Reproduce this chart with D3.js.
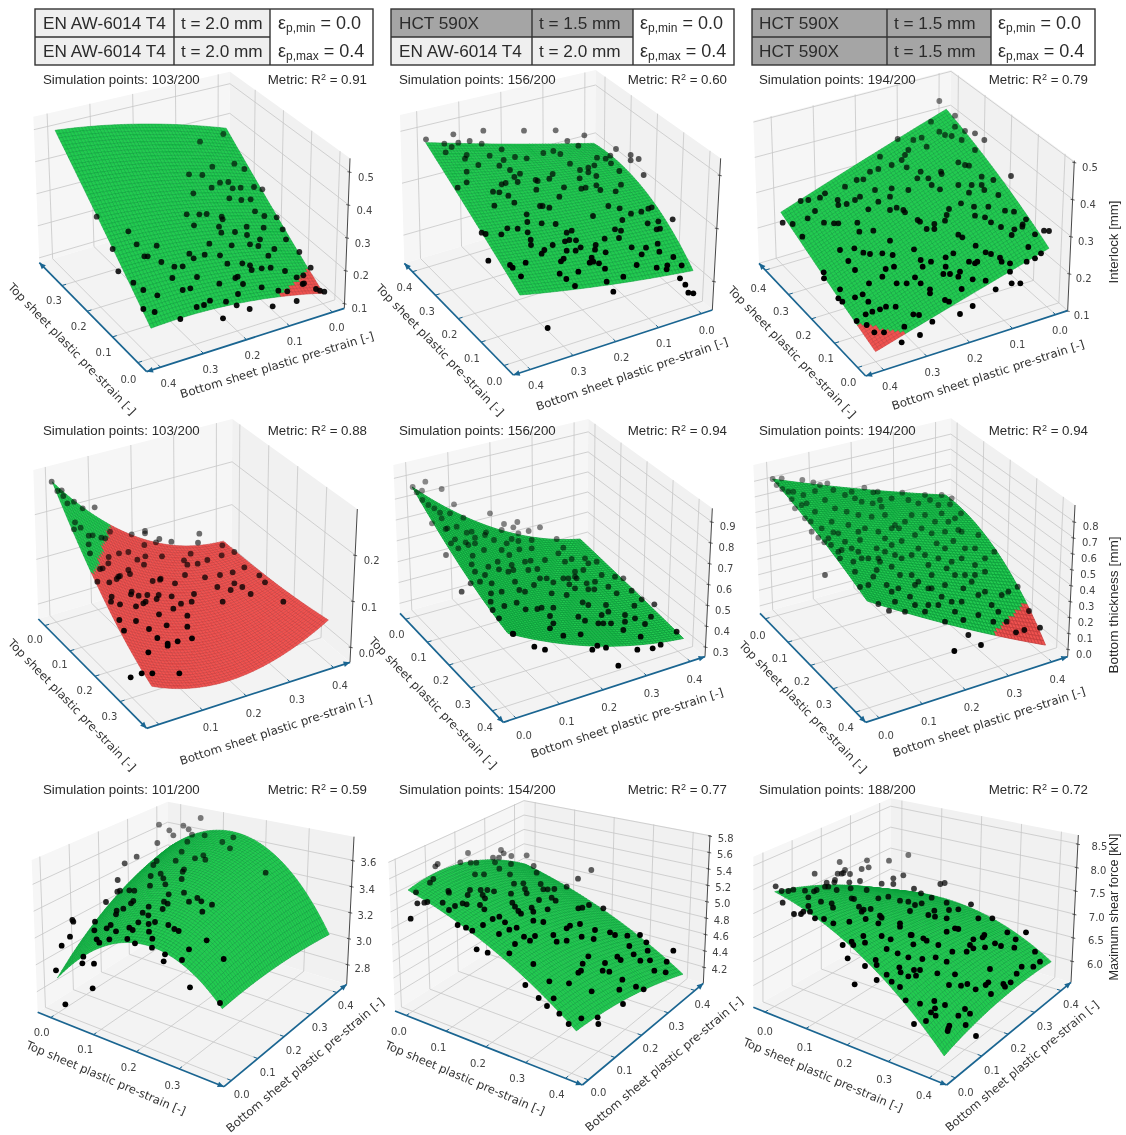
<!DOCTYPE html>
<html><head><meta charset="utf-8">
<script src="https://cdn.jsdelivr.net/npm/d3@7/dist/d3.min.js"></script>
<style>html,body{margin:0;background:#fff}svg{display:block;filter:blur(.35px)}text{font-family:"Liberation Sans",Arial,sans-serif;fill:#2b2b2b}</style>
</head><body><div id="chart"></div>
<script>
// ---------- values ----------
const materials=[["EN AW-6014 T4","t = 2.0 mm","EN AW-6014 T4","t = 2.0 mm"],["HCT 590X","t = 1.5 mm","EN AW-6014 T4","t = 2.0 mm"],["HCT 590X","t = 1.5 mm","HCT 590X","t = 1.5 mm"]];
const simCounts=["103/200","156/200","194/200","103/200","156/200","194/200","101/200","154/200","188/200"];
const metrics=["0.91","0.60","0.79","0.88","0.94","0.94","0.59","0.77","0.72"];
const yTitles=["Interlock [mm]","Bottom thickness [mm]","Maximum shear force [kN]"];
// Surface heights, rows = top-sheet strain, columns = bottom-sheet strain
const tGrids=[[0,.18,.36],[0,.2,.4],[0,.2,.4],[0,.19,.38],[0,.21,.42],[0,.2,.4],[0,.19,.38],[0,.205,.41],[0,.207,.414]];
const bGrids=[[.4,.2,0],[.4,.2,0],[.4,.2,0],[0,.2,.4],[0,.2,.4],[0,.205,.41],[0,.2,.4],[0,.2,.4],[0,.2,.4]];
const surf11=[[.173,.167,.117],[.336,.306,.235],[.509,.464,.381]];
const surf12=[[.328,.267,.221],[.448,.404,.373],[.571,.483,.398]];
const surf13=[[.126,.190,.258],[.182,.261,.344],[.249,.331,.414]];
const surf21=[[.28,.102,.039],[.125,.029,.042],[.033,-.006,.057]];
const surf22=[[.870,.565,.409],[.703,.478,.372],[.604,.425,.333]];
const surf23=[[.826,.625,.444],[.729,.524,.335],[.598,.279,-.008]];
const surf31=[[2.905,3.261,3.457],[3.389,3.589,3.676],[3.135,3.138,3.069]];
const surf32=[[5.473,5.453,5.021],[5.102,5.021,4.668],[4.507,4.404,4.153]];
const surf33=[[7.953,7.494,6.701],[7.283,7.170,6.774],[5.890,6.123,6.091]];
const redLimits=[.15,-9,.148,.15,-9,.16,-9,-9,-9];
// Simulation points as read in the picture plane: [horizontal, vertical] reading units
const pts11=[[600,425],[670,402],[637,500],[703,491],[567,523],[607,525],[733,507],[660,548],[685,546],[635,563],[698,565],[722,563],[762,561],[787,568],[580,580],[688,595],[724,600],[752,598],[765,634],[793,648],[830,652],[560,643],[598,643],[620,642],[665,650],[668,658],[290,650],[582,676],[657,680],[705,696],[740,680],[791,683],[848,688],[385,694],[664,698],[741,705],[780,718],[858,718],[410,733],[470,737],[628,731],[695,736],[750,733],[775,738],[823,747],[898,756],[338,747],[568,761],[581,775],[614,764],[660,766],[805,767],[433,769],[443,769],[484,786],[682,791],[727,790],[750,796],[755,810],[785,805],[812,803],[855,813],[932,803],[523,800],[548,799],[355,814],[517,834],[591,831],[706,834],[713,830],[658,851],[729,852],[890,832],[910,826],[400,848],[430,870],[548,870],[571,865],[472,886],[714,882],[785,862],[835,872],[862,874],[908,852],[948,867],[960,872],[973,875],[630,902],[678,905],[612,915],[590,921],[710,916],[749,927],[818,919],[890,903],[430,927],[464,936],[541,957],[669,955],[912,850]];
const pts12=[[153,418],[235,403],[325,392],[447,392],[542,391],[284,423],[320,431],[577,423],[628,406],[208,431],[230,441],[250,428],[380,448],[610,437],[723,447],[212,457],[275,465],[270,476],[344,467],[420,471],[455,475],[505,459],[535,453],[556,462],[767,465],[791,477],[706,467],[692,476],[666,473],[767,481],[310,495],[373,497],[386,480],[585,491],[658,496],[640,503],[708,490],[275,515],[405,510],[435,521],[418,531],[533,522],[640,517],[615,510],[664,528],[733,513],[806,525],[275,547],[380,553],[392,549],[428,546],[482,540],[488,543],[523,536],[614,535],[738,554],[248,563],[354,575],[373,577],[400,587],[484,569],[553,590],[567,562],[619,566],[632,563],[664,556],[676,570],[722,574],[418,608],[358,617],[495,618],[503,618],[523,623],[700,618],[734,625],[830,622],[820,626],[799,635],[768,641],[455,643],[654,648],[457,666],[500,670],[542,672],[742,660],[893,658],[850,664],[818,670],[855,686],[845,688],[397,685],[428,686],[320,698],[332,702],[458,697],[379,703],[590,692],[575,698],[720,688],[738,692],[689,716],[732,714],[467,719],[468,735],[570,724],[583,720],[603,721],[533,735],[662,735],[848,731],[575,752],[508,750],[500,761],[602,752],[617,742],[660,749],[770,742],[813,743],[692,757],[853,755],[800,763],[566,776],[558,784],[650,773],[644,788],[655,785],[672,790],[895,771],[690,806],[785,795],[845,803],[877,796],[875,808],[920,796],[340,782],[405,795],[413,803],[452,788],[610,815],[554,821],[574,837],[438,829],[745,830],[695,845],[600,858],[715,875],[915,835],[931,854],[940,878],[955,880],[518,984]];
const pts13=[[583,303],[630,347],[558,365],[630,380],[660,393],[690,400],[583,395],[600,405],[620,408],[650,420],[718,420],[458,417],[505,420],[530,413],[545,440],[490,450],[480,465],[405,470],[690,450],[640,487],[660,495],[672,497],[470,480],[440,495],[485,502],[400,507],[375,515],[355,538],[335,540],[798,528],[517,535],[527,515],[550,535],[588,515],[590,522],[710,530],[745,540],[560,555],[585,568],[640,555],[680,555],[710,555],[718,570],[440,565],[390,570],[300,560],[240,580],[225,593],[190,600],[167,603],[345,590],[330,600],[278,600],[280,615],[490,570],[435,590],[672,578],[760,585],[648,610],[400,605],[210,633],[305,612],[370,628],[455,623],[435,630],[475,630],[480,637],[612,627],[687,620],[730,620],[780,632],[807,635],[843,658],[690,647],[720,652],[605,645],[518,660],[525,665],[568,672],[600,662],[738,667],[833,673],[832,680],[188,655],[237,668],[267,670],[280,670],[337,668],[113,668],[143,672],[545,687],[568,687],[768,681],[808,688],[343,695],[385,692],[640,704],[652,712],[800,705],[870,703],[897,692],[912,693],[172,710],[435,722],[692,737],[850,741],[285,750],[328,745],[355,758],[375,762],[412,760],[443,765],[507,748],[722,757],[738,762],[602,772],[625,760],[527,780],[765,773],[672,785],[690,790],[697,785],[770,785],[795,790],[888,760],[870,775],[845,785],[310,783],[447,800],[422,807],[533,800],[558,785],[602,800],[236,817],[330,810],[412,830],[510,832],[237,835],[595,822],[615,822],[645,815],[640,830],[683,838],[722,842],[795,815],[800,850],[826,850],[372,850],[455,850],[485,850],[527,850],[285,868],[555,868],[555,880],[650,867],[752,868],[330,892],[353,883],[280,895],[292,905],[370,905],[600,900],[612,905],[423,920],[405,928],[452,920],[683,918],[645,942],[382,935],[362,943],[505,943],[522,945],[335,963],[562,965],[365,975],[388,997],[417,997],[478,980],[525,1005],[470,1027]];
const pts21=[[155,200],[172,228],[185,226],[190,243],[202,265],[222,260],[248,280],[284,277],[225,322],[242,338],[222,343],[330,350],[435,348],[435,355],[395,358],[478,372],[468,382],[514,380],[598,356],[594,383],[266,362],[278,361],[304,368],[316,370],[266,388],[270,415],[433,390],[357,415],[385,411],[326,426],[325,445],[436,424],[412,434],[486,424],[572,416],[552,436],[562,449],[593,446],[622,435],[665,421],[703,411],[667,391],[308,460],[385,465],[390,477],[432,449],[300,462],[292,500],[355,485],[360,483],[350,492],[328,502],[482,491],[480,494],[458,498],[525,505],[555,480],[615,487],[660,480],[698,472],[733,457],[778,481],[795,502],[703,505],[692,525],[727,516],[652,516],[335,545],[395,530],[393,538],[416,542],[442,540],[476,540],[470,552],[515,544],[582,537],[752,537],[333,560],[360,568],[408,574],[430,565],[437,560],[543,566],[520,581],[575,560],[668,560],[850,560],[477,598],[358,615],[408,618],[562,602],[500,631],[562,635],[447,642],[372,647],[472,669],[576,670],[533,679],[503,686],[503,692],[445,712],[392,787],[425,775],[457,775],[538,775]];
const pts22=[[113,216],[151,200],[200,222],[125,232],[141,227],[142,255],[237,268],[345,295],[171,325],[178,280],[195,293],[225,295],[265,308],[387,327],[427,321],[415,337],[495,337],[461,348],[212,342],[217,340],[245,335],[275,353],[290,350],[333,352],[380,345],[410,372],[430,378],[545,372],[357,375],[228,385],[240,373],[272,382],[300,385],[300,368],[330,360],[395,385],[327,405],[380,405],[403,420],[470,400],[433,403],[565,398],[213,420],[293,422],[368,440],[450,440],[467,437],[410,450],[415,465],[400,470],[372,463],[340,455],[290,448],[487,462],[590,432],[640,445],[665,440],[625,465],[495,490],[515,490],[535,502],[565,490],[583,508],[580,490],[600,485],[605,490],[720,485],[287,505],[315,500],[477,510],[635,505],[640,523],[658,523],[700,515],[433,525],[348,535],[770,527],[725,535],[800,553],[838,568],[347,560],[353,585],[388,573],[425,563],[452,583],[487,582],[500,578],[535,578],[623,562],[693,570],[778,572],[372,610],[525,603],[610,605],[630,617],[828,605],[535,625],[670,625],[685,625],[708,625],[750,620],[810,627],[525,640],[745,645],[415,657],[413,656],[565,662],[617,658],[797,665],[905,650],[478,695],[510,704],[652,704],[667,692],[693,698],[787,704],[833,700],[857,689],[730,752],[350,505],[260,530],[300,470],[330,480],[460,465],[510,435],[550,415],[630,430],[660,500],[680,480],[745,490],[470,375],[430,355],[570,440],[600,470],[530,535],[575,540],[600,520],[700,590],[750,600],[780,610],[640,570],[680,600],[420,500],[380,530],[450,530],[250,400],[280,390],[200,310],[160,270]];
const pts23=[[83,192],[110,190],[172,195],[205,202],[247,205],[95,210],[112,222],[140,253],[145,230],[175,240],[185,265],[210,228],[240,255],[300,240],[358,218],[385,232],[398,230],[472,233],[590,240],[615,268],[648,295],[320,230],[350,260],[383,265],[410,275],[440,250],[490,255],[520,265],[555,255],[180,310],[197,320],[150,280],[210,290],[260,320],[305,290],[340,300],[380,305],[420,300],[450,330],[500,300],[540,300],[590,295],[630,310],[220,368],[238,382],[258,390],[265,352],[280,355],[340,350],[290,405],[345,375],[420,370],[462,340],[470,378],[510,360],[560,355],[600,350],[640,345],[325,440],[340,410],[400,430],[405,440],[450,420],[520,400],[540,420],[575,385],[625,378],[660,400],[700,360],[748,410],[330,470],[395,465],[440,455],[465,480],[510,510],[520,500],[560,480],[605,460],[650,430],[690,450],[720,430],[345,516],[385,485],[425,510],[460,520],[495,545],[550,520],[590,545],[655,520],[690,480],[720,530],[818,515],[400,567],[432,587],[480,590],[540,590],[600,620],[630,590],[655,615],[790,530],[760,590],[785,620],[852,588],[885,638],[670,660],[708,690],[628,708],[813,652],[838,645],[240,480],[285,430],[370,510],[420,410],[470,430],[500,480],[580,430],[630,480],[680,500],[230,340],[270,280],[310,330],[360,340],[400,350],[440,340],[480,320],[530,340],[570,320],[610,320],[650,350],[690,400],[300,380],[350,430],[395,400],[440,390],[500,420],[550,450],[600,400],[720,470],[770,540],[740,570],[700,540],[650,560],[620,560],[580,570],[550,570],[510,570],[450,560],[700,600],[745,620],[660,480],[600,510],[560,520],[620,440],[440,530],[370,430],[320,400],[280,410],[250,370],[200,350],[170,270],[130,230],[225,210],[265,225],[330,250],[405,255],[540,240],[580,270],[620,250]];
const pts31=[[602,129],[477,149],[550,152],[508,166],[520,181],[566,163],[576,179],[472,204],[410,245],[374,265],[353,315],[352,350],[360,347],[318,381],[285,440],[217,435],[220,440],[210,485],[185,512],[168,586],[250,545],[247,565],[282,566],[278,640],[196,688],[700,187],[667,201],[690,220],[614,181],[562,200],[545,230],[585,250],[610,241],[616,254],[527,257],[470,258],[460,270],[552,283],[548,290],[482,296],[490,310],[452,303],[545,312],[496,328],[450,332],[797,293],[388,346],[403,347],[506,358],[552,353],[592,369],[604,379],[567,380],[636,389],[492,380],[503,386],[400,378],[393,385],[446,395],[488,402],[370,401],[350,407],[348,418],[607,410],[428,413],[445,421],[415,442],[465,441],[283,466],[332,450],[320,460],[348,469],[388,458],[398,465],[505,450],[523,462],[536,468],[446,447],[447,470],[290,493],[298,503],[328,493],[382,492],[457,491],[405,505],[620,496],[456,518],[567,523],[495,538],[546,555],[491,559],[671,552],[570,637],[660,684]];
const pts32=[[378,225],[386,235],[409,243],[455,241],[354,248],[372,248],[279,234],[188,267],[181,274],[256,262],[287,263],[304,263],[360,262],[408,267],[476,273],[649,285],[373,281],[485,293],[609,311],[175,312],[165,323],[300,298],[327,298],[405,298],[123,352],[285,345],[317,345],[337,345],[357,349],[408,356],[445,325],[417,326],[450,342],[497,327],[505,343],[518,343],[538,342],[575,335],[220,348],[222,353],[127,385],[148,383],[157,381],[203,383],[107,431],[240,393],[222,405],[263,385],[275,388],[278,360],[323,360],[330,370],[315,390],[328,403],[412,383],[420,395],[455,355],[492,375],[542,377],[530,368],[518,403],[470,398],[475,410],[430,408],[438,416],[610,400],[622,398],[642,390],[685,400],[248,450],[273,458],[292,467],[324,450],[353,432],[373,425],[390,442],[403,464],[425,458],[475,437],[505,441],[372,477],[447,485],[465,497],[480,483],[535,480],[575,460],[585,452],[615,447],[660,465],[705,472],[720,480],[757,482],[795,480],[620,485],[656,492],[545,500],[575,497],[305,523],[338,533],[403,535],[420,507],[763,513],[814,502],[818,527],[895,527],[776,538],[796,557],[825,556],[875,560],[727,545],[737,555],[640,544],[475,567],[623,566],[690,564],[683,587],[703,590],[610,593],[618,587],[838,587],[872,592],[523,619],[582,625],[742,614],[451,630],[650,649],[733,644],[783,635],[806,643],[491,669],[536,670],[516,693],[744,687],[553,716],[619,730],[581,747],[668,727],[670,747]];
const pts33=[[490,240],[432,257],[366,256],[284,261],[371,277],[350,282],[300,285],[278,296],[290,296],[295,294],[315,297],[209,296],[475,301],[445,310],[445,327],[270,315],[268,322],[245,323],[313,322],[345,318],[410,326],[92,334],[110,348],[130,348],[145,344],[180,347],[207,349],[215,345],[240,335],[250,335],[275,345],[317,340],[365,345],[507,341],[586,327],[599,324],[528,355],[113,383],[190,367],[228,380],[190,393],[260,385],[264,398],[320,370],[327,372],[400,370],[430,365],[465,377],[490,380],[510,390],[530,385],[560,368],[605,383],[678,388],[612,405],[640,403],[147,417],[168,417],[175,410],[195,410],[210,430],[237,432],[265,445],[342,395],[356,404],[377,402],[405,422],[410,428],[350,410],[495,408],[550,420],[568,407],[570,425],[605,430],[700,430],[742,430],[313,440],[362,432],[400,445],[465,445],[465,455],[640,462],[630,460],[605,470],[843,472],[787,472],[355,483],[410,483],[437,493],[497,480],[500,480],[535,490],[545,497],[685,493],[713,487],[718,480],[812,493],[320,500],[293,510],[325,510],[360,503],[505,508],[580,510],[750,505],[768,513],[808,518],[675,510],[685,520],[720,517],[665,530],[425,522],[458,535],[622,530],[870,530],[490,547],[532,552],[572,547],[392,555],[395,570],[308,550],[360,573],[605,560],[830,575],[865,575],[885,560],[463,577],[467,592],[507,585],[525,585],[490,604],[513,602],[577,595],[630,598],[735,582],[815,596],[425,599],[440,620],[395,615],[329,628],[465,636],[612,630],[648,632],[667,627],[722,630],[730,622],[775,627],[780,635],[797,622],[692,643],[738,657],[482,676],[525,686],[568,678],[570,700],[600,690],[558,712],[572,722],[660,702],[640,722],[675,716],[543,738],[507,747],[613,752],[610,760],[608,768],[662,750],[693,783]];
// Axis ticks
const tTicks03=[0,.1,.2,.3], tTicks04=[0,.1,.2,.3,.4], bTicks04=[0,.1,.2,.3,.4];
const zTicks=[[.1,.2,.3,.4,.5],[.2,.4,.6],[.1,.2,.3,.4,.5],[0,.1,.2],[.3,.4,.5,.6,.7,.8,.9],[0,.1,.2,.3,.4,.5,.6,.7,.8],[2.8,3,3.2,3.4,3.6],[4.2,4.4,4.6,4.8,5,5.2,5.4,5.6,5.8],[6,6.5,7,7.5,8,8.5]];

// ---------- layout ----------
const allSurf=[surf11,surf12,surf13,surf21,surf22,surf23,surf31,surf32,surf33];
const allPts=[pts11,pts12,pts13,pts21,pts22,pts23,pts31,pts32,pts33];
const colX=[0,375,745], rowY=[0,415,775];
const geo=[
{F:[440,1115],L:[118,788],R:[1033,925],B:[688,620],Ft:[430,645],Lt:[100,350],Rt:[1050,475],Bt:[690,215],tm:[0,.083,.3,.79],bm:[.4,.07,0,.94],zm:[.1,.033,.5,.911],tT:tTicks03,tL:[0,[385,1137],.3,[162,900]],bL:[.4,[505,1150],0,[1010,983]],zL:[[1078,925],[1098,533]],tLab:[72,349,46],bLab:[277,365,-17],fade:[.55,1,380,1000]},
{F:[415,1125],L:[88,790],R:[1012,930],B:[660,620],Ft:[405,650],Lt:[75,345],Rt:[1037,475],Bt:[662,210],tm:[0,.085,.4,.925],bm:[.4,.085,0,.945],zm:[.2,.19,.6,.89],tT:tTicks04,tL:[0,[358,1145],.4,[88,863]],bL:[.4,[483,1157],0,[995,990]],zL:null,tLab:[440,350,46],bLab:[632,374,-19],fade:[.55,1,400,800]},
{F:[362,1128],L:[42,790],R:[968,932],B:[615,620],Ft:[350,650],Lt:[25,362],Rt:[988,482],Bt:[618,210],tm:[0,.075,.4,.94],bm:[.4,.09,0,.94],zm:[.1,0,.5,.99],tT:tTicks04,tL:[0,[310,1147],.4,[40,865]],bL:[.4,[435,1160],0,[945,992]],zL:[[1010,945],[1035,502]],tLab:[792,352,46],bLab:[988,375,-18],fade:[.5,1,300,800]},
{F:[440,940],L:[115,612],R:[1050,742],B:[695,440],Ft:[430,460],Lt:[100,165],Rt:[1072,282],Bt:[697,12],tm:[0,.94,.3,.245],bm:[0,.06,.4,.92],zm:[0,.10,.2,.70],tT:tTicks03,tL:[0,[105,672],.3,[328,905]],bL:[.1,[632,938],.4,[1020,810]],bHide:[0],zL:[[1100,715],[1115,437]],tLab:[72,705,46],bLab:[276,730,-18],fade:[.55,1,350,700]},
{F:[385,922],L:[75,595],R:[990,725],B:[637,440],Ft:[375,445],Lt:[55,150],Rt:[1012,280],Bt:[640,12],tm:[0,.946,.4,.106],bm:[0,.063,.4,.927],zm:[.3,.067,.9,.91],tT:tTicks04,tL:[0,[65,658],.4,[330,937]],bL:[0,[447,962],.4,[958,792]],zL:[[1037,712],[1058,335]],tLab:[433,703,46],bLab:[627,723,-18],fade:[.45,1,280,700],fexp:3,dense:1},
{F:[362,922],L:[45,595],R:[968,725],B:[615,440],Ft:[352,445],Lt:[25,150],Rt:[990,270],Bt:[618,10],tm:[0,.95,.4,.094],bm:[0,.067,.4,.922],zm:[0,.05,.8,.89],tT:tTicks04,tL:[0,[38,660],.4,[303,937]],bL:[0,[423,962],.4,[937,793]],zL:[[1017,718],[1037,335]],tLab:[803,707,46],bLab:[989,722,-18],fade:[.45,1,280,700],fexp:3,dense:1},
{F:[672,935],L:[113,712],R:[1040,628],B:[503,465],Ft:[682,460],Lt:[95,255],Rt:[1062,185],Bt:[503,80],tm:[0,.93,.3,.24],bm:[0,.06,.4,.92],zm:[2.8,.135,3.6,.84],tT:tTicks03,tL:[0,[125,772],.3,[517,930]],bL:[0,[725,958],.4,[1037,692]],zL:[[1087,580],[1105,263]],tLab:[106,1078,23],bLab:[305,1065,-40],fade:[.5,1,150,500]},
{F:[622,930],L:[60,708],R:[985,625],B:[447,465],Ft:[632,455],Lt:[40,260],Rt:[1005,180],Bt:[447,75],tm:[0,.94,.4,.09],bm:[0,.05,.4,.93],zm:[4.2,.11,5.8,.995],tT:tTicks04,tL:[0,[72,770],.4,[545,958]],bL:[0,[670,952],.4,[982,687]],zL:[[1033,583],[1052,190]],tLab:[465,1078,23],bLab:[664,1064,-40],fade:[.5,1,230,450]},
{F:[605,930],L:[25,697],R:[978,622],B:[437,465],Ft:[615,455],Lt:[25,245],Rt:[1000,180],Bt:[437,70],tm:[0,.94,.4,.09],bm:[0,.07,.4,.92],zm:[6,.145,8.5,.94],tT:tTicks04,tL:[0,[60,770],.4,[537,960]],bL:[0,[662,953],.4,[978,687]],zL:[[1050,567],[1063,215]],tLab:[823,1075,23],bLab:[1022,1066,-40],fade:[.5,1,230,450]}
];
const svg=d3.select("#chart").append("svg").attr("width",1126).attr("height",1135);
const blue="#1a6591", fmt=d3.format(".1f");
const N=52;
const lag=(s,a,b,c)=>a*(s-.5)*(s-1)*2-b*s*(s-1)*4+c*s*(s-.5)*2;

geo.forEach((g,i)=>{
  const col=i%3,row=Math.floor(i/3);
  const vx=d3.scaleLinear([0,1140],[colX[col],colX[col]+380]), vy=d3.scaleLinear([0,1080],[rowY[row],rowY[row]+360]);
  const tS=d3.scaleLinear([g.tm[0],g.tm[2]],[g.tm[1],g.tm[3]]), bS=d3.scaleLinear([g.bm[0],g.bm[2]],[g.bm[1],g.bm[3]]), zS=d3.scaleLinear([g.zm[0],g.zm[2]],[g.zm[1],g.zm[3]]);
  const bil=(a,b,c,d,p,q,k)=>a[k]*(1-p)*(1-q)+b[k]*p*(1-q)+c[k]*(1-p)*q+d[k]*p*q;
  const P=(p,q,r)=>{const f=k=>bil(g.F,g.L,g.R,g.B,p,q,k)*(1-r)+bil(g.Ft,g.Lt,g.Rt,g.Bt,p,q,k)*r;return [vx(f(0)),vy(f(1))];};
  const gp=svg.append("g");
  const line=d3.line();
  // panes
  gp.append("path").attr("d",line([P(1,0,0),P(1,1,0),P(1,1,1),P(1,0,1)])+"Z").attr("fill","#f6f6f6");
  gp.append("path").attr("d",line([P(0,1,0),P(1,1,0),P(1,1,1),P(0,1,1)])+"Z").attr("fill","#f1f1f1");
  gp.append("path").attr("d",line([P(0,0,0),P(1,0,0),P(1,1,0),P(0,1,0)])+"Z").attr("fill","#f3f3f3");
  // grid
  const grid=gp.append("g").attr("fill","none").attr("stroke","#c6c6c6").attr("stroke-width",.8);
  const zT=zTicks[i], tT=g.tT;
  grid.selectAll(".t").data(tT).join("path").attr("d",t=>line([P(tS(t),0,0),P(tS(t),1,0),P(tS(t),1,1)]));
  grid.selectAll(".b").data(bTicks04).join("path").attr("d",b=>line([P(0,bS(b),0),P(1,bS(b),0),P(1,bS(b),1)]));
  grid.selectAll(".z").data(zT).join("path").attr("d",z=>line([P(1,0,zS(z)),P(1,1,zS(z)),P(0,1,zS(z))]));
  // z axis
  gp.append("path").attr("d",line([P(0,1,0),P(0,1,1)])).attr("stroke","#333").attr("stroke-width",.9).attr("fill","none");
  gp.selectAll(".zt").data(zT).join("path").attr("d",z=>{const a=P(0,1,zS(z));return line([[a[0]-2,a[1]],[a[0]+2,a[1]+.8]]);}).attr("stroke","#333").attr("stroke-width",.8);
  // blue axes
  const first=row===0;
  const arrow=(a,b)=>{
    const ang=Math.atan2(b[1]-a[1],b[0]-a[0]),s=7;
    gp.append("path").attr("d",line([a,b])).attr("stroke",blue).attr("stroke-width",1.7).attr("fill","none");
    gp.append("path").attr("d",line([b,[b[0]-s*Math.cos(ang-.42),b[1]-s*Math.sin(ang-.42)],[b[0]-s*Math.cos(ang+.42),b[1]-s*Math.sin(ang+.42)]])+"Z").attr("fill",blue);
  };
  if(first){arrow(P(0,0,0),P(1,0,0));arrow(P(0,1,0),P(0,0,0));}
  else{arrow(P(1,0,0),P(0,0,0));arrow(P(0,0,0),P(0,1,0));}
  gp.selectAll(".tm").data(tT).join("path").attr("d",t=>line([P(tS(t),0,0),P(tS(t),.022,0)])).attr("stroke",blue).attr("stroke-width",1);
  gp.selectAll(".bm").data(bTicks04).join("path").attr("d",b=>line([P(0,bS(b),0),P(.022,bS(b),0)])).attr("stroke",blue).attr("stroke-width",1);
  // tick labels
  const lab=(vals,L)=>{const x=d3.scaleLinear([L[0],L[2]],[L[1][0],L[3][0]]),y=d3.scaleLinear([L[0],L[2]],[L[1][1],L[3][1]]);
    gp.append("g").selectAll("text").data(vals).join("text").attr("x",v=>vx(x(v))).attr("y",v=>vy(y(v))+3.5).attr("text-anchor","middle").style("font-family","DejaVu Sans").style("font-size","10px").style("fill","#444").text(fmt);};
  lab(tT,g.tL);
  lab(bTicks04.filter(b=>!(g.bHide||[]).includes(b)),g.bL);
  if(g.zL) lab(zT,[zT[0],g.zL[0],zT[zT.length-1],g.zL[1]]);
  // axis titles
  const ttl=(a,s,len)=>gp.append("text").attr("transform",`translate(${a[0]},${a[1]}) rotate(${a[2]})`).attr("text-anchor","middle").attr("dy",4).attr("textLength",len).attr("lengthAdjust","spacingAndGlyphs").style("font-family","DejaVu Sans").style("font-size","11.5px").style("fill","#333").text(s);
  ttl(g.tLab,"Top sheet plastic pre-strain [-]",i<6?178:172);
  ttl(g.bLab,"Bottom sheet plastic pre-strain [-]",i===8?196:202);
  // surface
  const Z=allSurf[i],tg=tGrids[i],bg=bGrids[i];
  const zAt=(u,v)=>lag(u,lag(v,...Z[0]),lag(v,...Z[1]),lag(v,...Z[2]));
  const pos=(u,v)=>{const t=d3.interpolateNumber(tg[0],tg[2])(u),b=d3.interpolateNumber(bg[0],bg[2])(v);return [tS(t),bS(b),zS(zAt(u,v))];};
  const cells=[];
  for(let a=0;a<N;a++)for(let c=0;c<N;c++){
    const c0=pos(a/N,c/N),c1=pos((a+1)/N,c/N),c2=pos((a+1)/N,(c+1)/N),c3=pos(a/N,(c+1)/N);
    cells.push({d:line([c0,c1,c2,c3].map(k=>P(...k)))+"Z",depth:c0[0]+c2[0]+c0[1]+c2[1],red:zAt((a+.5)/N,(c+.5)/N)<redLimits[i]});
  }
  cells.sort((x,y)=>y.depth-x.depth);
  gp.append("g").attr("stroke-width",g.dense?.75:.5).selectAll("path").data(cells).join("path").attr("d",d=>d.d)
    .attr("fill",d=>d.red?"#f0524f":"#22cb50").attr("stroke",d=>d.red?"#c23a3a":"#0b9c3a");
  // points
  const op=d3.scalePow().exponent(g.fexp||1).domain([g.fade[2],g.fade[3]]).range([g.fade[0],g.fade[1]]).clamp(true);
  gp.append("g").selectAll("circle").data(allPts[i]).join("circle").attr("cx",d=>vx(d[0])).attr("cy",d=>vy(d[1])).attr("r",2.9).attr("fill","#000").attr("opacity",d=>op(d[1]));
  // titles
  const ty=[84,435,794][row];
  gp.append("text").attr("x",[43,399,759][col]).attr("y",ty).style("font-size","13.3px").text("Simulation points: "+simCounts[i]);
  const m=gp.append("text").attr("x",[367,727,1088][col]).attr("y",ty).attr("text-anchor","end").style("font-size","13.3px");
  m.append("tspan").text("Metric: R");
  m.append("tspan").attr("dy",-4).style("font-size","9px").text("2");
  m.append("tspan").attr("dy",4).text(" = "+metrics[i]);
});
// y titles on the right
[242,605,907].forEach((y,k)=>{
  svg.append("text").attr("transform",`translate(1118,${y}) rotate(-90)`).attr("text-anchor","middle").attr("textLength",[83,137,147][k]).attr("lengthAdjust","spacingAndGlyphs").style("font-size","13px").text(yTitles[k]);
});
// header tables
const hdr=[{x:35,x1:174,x2:270,x3:373,tx:[43,181,278]},{x:391,x1:532,x2:633,x3:734,tx:[399,539,640]},{x:752,x1:887,x2:991,x3:1095,tx:[759,894,998]}];
hdr.forEach((h,c)=>{
  const g=svg.append("g"),m=materials[c],y0=9,y1=37,y2=65;
  const cellFill=s=>s.startsWith("HCT")?"#a5a5a5":"#efefef";
  g.append("rect").attr("x",h.x).attr("y",y0).attr("width",h.x1-h.x).attr("height",y1-y0).attr("fill",cellFill(m[0]));
  g.append("rect").attr("x",h.x1).attr("y",y0).attr("width",h.x2-h.x1).attr("height",y1-y0).attr("fill",cellFill(m[0]));
  g.append("rect").attr("x",h.x).attr("y",y1).attr("width",h.x1-h.x).attr("height",y2-y1).attr("fill",cellFill(m[2]));
  g.append("rect").attr("x",h.x1).attr("y",y1).attr("width",h.x2-h.x1).attr("height",y2-y1).attr("fill",cellFill(m[2]));
  g.append("rect").attr("x",h.x).attr("y",y0).attr("width",h.x3-h.x).attr("height",y2-y0).attr("fill","none").attr("stroke","#333").attr("stroke-width",1.4);
  [[h.x1,y0,h.x1,y2],[h.x2,y0,h.x2,y2],[h.x,y1,h.x2,y1]].forEach(l=>g.append("line").attr("x1",l[0]).attr("y1",l[1]).attr("x2",l[2]).attr("y2",l[3]).attr("stroke","#333").attr("stroke-width",1.4));
  [[m[0],m[1],29],[m[2],m[3],57]].forEach(r=>{
    g.append("text").attr("x",h.tx[0]).attr("y",r[2]).style("font-size","17.2px").text(r[0]);
    g.append("text").attr("x",h.tx[1]).attr("y",r[2]).style("font-size","17.2px").text(r[1]);
  });
  [["min","0.0",29],["max","0.4",57]].forEach(r=>{
    const t=g.append("text").attr("x",h.tx[2]).attr("y",r[2]).style("font-size","18px");
    t.append("tspan").text("ε");
    t.append("tspan").attr("dy",3).style("font-size","12px").text("p,"+r[0]);
    t.append("tspan").attr("dy",-3).text(" = "+r[1]);
  });
});
</script></body></html>
